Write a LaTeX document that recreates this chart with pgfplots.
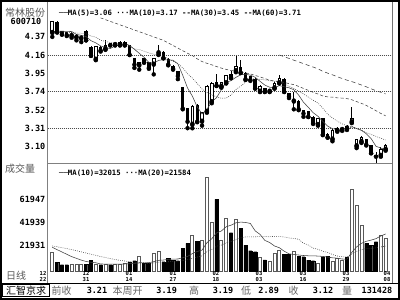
\documentclass[border=0pt]{standalone}
\usepackage{pgfplots}
\pgfplotsset{compat=1.18}
\usepackage{pgfplotstable}
\usepackage{fontspec}
\setmainfont{DejaVu Sans Mono}
\newfontfamily\mono{DejaVu Sans Mono}
\newfontfamily\cjk{Noto Sans CJK SC}

% up (hollow) candles: index, open, high, low, close, volume
\pgfplotstableread{
i O H L C V
0 4.415 4.56 4.37 4.552 15900
4 4.38 4.42 4.36 4.39 5600
5 4.36 4.40 4.33 4.39 5800
6 4.35 4.38 4.31 4.37 5500
9 4.105 4.27 4.10 4.264 5600
11 4.226 4.33 4.22 4.275 6000
13 4.275 4.31 4.27 4.302 5500
14 4.275 4.32 4.27 4.313 5600
15 4.275 4.32 4.27 4.305 7000
18 4.037 4.08 3.99 4.075 12400
21 4.048 4.13 3.935 4.124 15300
22 4.18 4.28 4.16 4.20 16700
29 3.35 3.58 3.31 3.57 31100
31 3.386 3.50 3.34 3.493 26200
32 3.50 3.81 3.49 3.803 80900
33 3.613 3.85 3.60 3.84 41700
35 3.79 3.85 3.78 3.848 26200
36 3.833 3.93 3.83 3.924 45500
38 3.973 4.143 3.96 4.03 44700
43 3.734 3.81 3.73 3.803 11900
45 3.734 3.77 3.73 3.75 8100
46 3.772 3.85 3.77 3.84 15600
47 3.833 3.924 3.83 3.897 18200
50 3.62 3.734 3.53 3.632 16750
55 3.348 3.43 3.34 3.425 6300
58 3.178 3.30 3.159 3.292 8100
59 3.28 3.32 3.27 3.318 11000
60 3.29 3.32 3.28 3.31 9570
62 3.379 3.556 3.37 3.425 70500
63 3.10 3.18 3.08 3.18 57000
64 3.15 3.22 3.14 3.21 39760
68 2.99 3.09 2.98 3.07 31000
69 3.06 3.13 3.05 3.12 28578
}\candup

% down (filled) candles
\pgfplotstableread{
i O H L C V
1 4.54 4.55 4.42 4.427 7300
2 4.438 4.44 4.395 4.40 5500
3 4.427 4.43 4.38 4.389 5500
7 4.44 4.45 4.33 4.33 5800
8 4.256 4.26 4.15 4.15 9500
10 4.249 4.26 4.20 4.211 5500
12 4.294 4.30 4.27 4.275 5500
16 4.275 4.28 4.16 4.16 8000
17 4.124 4.13 4.01 4.048 9000
19 4.124 4.13 4.07 4.075 6700
20 4.075 4.08 4.00 4.01 6700
23 4.20 4.21 4.12 4.124 8100
24 4.113 4.12 4.04 4.048 11000
25 4.03 4.04 3.99 3.999 9500
26 3.973 3.98 3.88 3.916 9000
27 3.784 3.79 3.53 3.538 19600
28 3.545 3.55 3.311 3.386 24000
30 3.583 3.59 3.38 3.386 25400
34 3.848 3.935 3.80 3.803 61900
37 3.935 3.973 3.89 3.897 33100
39 4.022 4.105 3.95 3.954 36900
40 3.954 3.96 3.87 3.878 22500
41 3.916 3.92 3.86 3.87 17600
42 3.886 3.89 3.77 3.772 16700
44 3.772 3.78 3.73 3.734 9600
48 3.886 3.89 3.73 3.734 14700
49 3.719 3.72 3.66 3.681 14200
51 3.632 3.64 3.52 3.53 13020
52 3.519 3.52 3.443 3.481 12400
53 3.507 3.51 3.44 3.443 9570
54 3.443 3.45 3.36 3.368 9000
56 3.425 3.43 3.23 3.235 12400
57 3.243 3.25 3.20 3.204 13000
61 3.34 3.35 3.29 3.30 11900
65 3.19 3.19 3.11 3.12 23980
66 3.12 3.12 3.02 3.02 22510
67 3.00 3.03 2.89 2.98 25360
}\canddown

% price moving averages MA5, MA10
\pgfplotstableread{
i ma5 ma10
0 4.430 4.420
1 4.436 4.423
2 4.436 4.423
3 4.434 4.422
4 4.432 4.421
5 4.399 4.415
6 4.388 4.412
7 4.374 4.405
8 4.326 4.380
9 4.301 4.367
10 4.265 4.332
11 4.246 4.317
12 4.235 4.305
13 4.265 4.296
14 4.275 4.288
15 4.294 4.280
16 4.271 4.259
17 4.226 4.231
18 4.180 4.223
19 4.133 4.204
20 4.074 4.184
21 4.066 4.169
22 4.097 4.162
23 4.107 4.144
24 4.101 4.117
25 4.099 4.087
26 4.057 4.062
27 3.925 4.011
28 3.777 3.942
29 3.682 3.892
30 3.559 3.829
31 3.475 3.766
32 3.528 3.727
33 3.618 3.698
34 3.665 3.674
35 3.757 3.658
36 3.844 3.660
37 3.862 3.695
38 3.900 3.759
39 3.931 3.798
40 3.937 3.847
41 3.926 3.885
42 3.901 3.882
43 3.855 3.878
44 3.811 3.871
45 3.786 3.862
46 3.780 3.853
47 3.805 3.853
48 3.791 3.823
49 3.780 3.796
50 3.757 3.772
51 3.695 3.738
52 3.612 3.709
53 3.553 3.672
54 3.491 3.636
55 3.449 3.603
56 3.390 3.543
57 3.335 3.474
58 3.305 3.429
59 3.295 3.393
60 3.272 3.361
61 3.285 3.338
62 3.329 3.332
63 3.307 3.306
64 3.285 3.290
65 3.247 3.260
66 3.191 3.238
67 3.102 3.216
68 3.080 3.194
69 3.062 3.174
}\pma

\pgfplotstableread{
i ma
10 4.59
11 4.57
12 4.55
13 4.53
14 4.51
15 4.49
16 4.47
17 4.45
18 4.43
19 4.41
20 4.39
21 4.37
22 4.35
23 4.33
24 4.30
25 4.27
26 4.24
27 4.21
28 4.18
29 4.154
30 4.115
31 4.084
32 4.064
33 4.046
34 4.026
35 4.008
36 3.993
37 3.979
38 3.975
39 3.964
40 3.953
41 3.940
42 3.923
43 3.906
44 3.887
45 3.869
46 3.858
47 3.853
48 3.842
49 3.828
50 3.816
51 3.796
52 3.772
53 3.750
54 3.727
55 3.708
56 3.685
57 3.674
58 3.671
59 3.663
60 3.660
61 3.654
62 3.641
63 3.619
64 3.599
65 3.575
66 3.545
67 3.514
68 3.482
69 3.454
}\pmathirty

\pgfplotstableread{
i ma
47 4.16
48 4.14
49 4.12
50 4.10
51 4.08
52 4.06
53 4.04
54 4.02
55 4.00
56 3.97
57 3.95
58 3.93
59 3.908
60 3.887
61 3.868
62 3.852
63 3.832
64 3.812
65 3.791
66 3.768
67 3.746
68 3.728
69 3.709
}\pmasixty

% volume moving averages MA10, MA20
\pgfplotstableread{
i v10 v20
0 20500 21700
1 18500 21000
2 16500 20200
3 14500 19400
4 12500 18500
5 11000 17600
6 9500 16600
7 8300 15600
8 7600 14600
9 7200 13600
10 6160 12600
11 6030 11700
12 6030 10800
13 6030 10000
14 6030 9300
15 6150 8700
16 6400 8100
17 6720 7700
18 7010 7400
19 7120 7160
20 7240 6700
21 8170 7100
22 9290 7660
23 9550 7790
24 10090 8060
25 10340 8245
26 10440 8420
27 11500 9110
28 12660 9835
29 15100 11110
30 16970 12105
31 18060 13115
32 24480 16885
33 27840 18695
34 32930 21510
35 34600 22470
36 38250 24345
37 39600 25550
38 41670 27165
39 42250 28675
40 41960 29465
41 41100 29580
42 34680 29580
43 31700 29770
44 26470 29700
45 24660 29630
46 21670 29960
47 20180 29890
48 17180 29425
49 14910 28580
50 14335 28148
51 13877 27489
52 13447 24064
53 13214 22457
54 13154 19812
55 12974 18817
56 12654 17162
57 12134 16157
58 11474 14327
59 11154 13032
60 10436 12386
61 10324 12101
62 16134 14791
63 20877 17046
64 23953 18554
65 25721 19348
66 26732 19693
67 27968 20051
68 30258 20866
69 32016 21585
}\vma

\pgfplotsset{
  panel/.style={scale only axis, hide axis, xtick=\empty, ytick=\empty,
    xmin=-0.952, xmax=70.43, width=344.8bp, clip=true},
  maline/.style={black!75, line width=0.55bp, mark=none},
}
\newcommand\num{\mono\bfseries\fontsize{8.5bp}{8.5bp}\selectfont}
\newcommand\leg{\mono\bfseries\fontsize{7.3bp}{7.3bp}\selectfont}
\newcommand\dat{\mono\bfseries\fontsize{5.5bp}{5.3bp}\selectfont}
\newcommand\zh{\cjk\fontsize{10bp}{10bp}\selectfont}

\begin{document}
\begin{tikzpicture}[x=1bp,y=1bp]
\useasboundingbox (0,0) rectangle (400,300);
\fill[white] (0,0) rectangle (400,300);

% dotted price grid lines (4.16, 3.74, 3.31)
\foreach \yy in {245,208.8,171.7}
  \draw[black!70, line width=0.5bp, dash pattern=on 0.7bp off 1.3bp] (47.7,\yy) -- (392.5,\yy);

% ---------------- price panel ----------------
\begin{axis}[panel, at={(47.7bp,136bp)}, anchor=south west, height=156bp,
  ymin=2.8955, ymax=4.7052]
% wicks
\addplot[only marks, mark=none, error bars/.cd, y dir=plus, y explicit, error mark=none,
  error bar style={draw=black, line width=0.7bp}]
  table[x=i, y=L, y error expr=\thisrow{H}-\thisrow{L}] {\candup};
\addplot[only marks, mark=none, error bars/.cd, y dir=plus, y explicit, error mark=none,
  error bar style={draw=black, line width=0.7bp}]
  table[x=i, y=L, y error expr=\thisrow{H}-\thisrow{L}] {\canddown};
% down bodies (filled)
\addplot[only marks, mark=none, error bars/.cd, y dir=plus, y explicit, error mark=none,
  error bar style={draw=black, line width=3.4bp}]
  table[x=i, y=C, y error expr={max(\thisrow{O}-\thisrow{C},0.012)}] {\canddown};
% up bodies (hollow): black outline then white inside
\addplot[only marks, mark=none, error bars/.cd, y dir=plus, y explicit, error mark=none,
  error bar style={draw=black, line width=3.6bp}]
  table[x=i, y=O, y error expr={max(\thisrow{C}-\thisrow{O},0.012)}] {\candup};
\addplot[only marks, mark=none, error bars/.cd, y dir=plus, y explicit, error mark=none,
  error bar style={draw=white, line width=1.6bp}]
  table[x=i, y expr=\thisrow{O}+0.0116, y error expr={max(\thisrow{C}-\thisrow{O}-0.0232,0)}] {\candup};
% moving averages
\addplot[maline] table[x=i, y=ma5] {\pma};
\addplot[maline, dash pattern=on 0.8bp off 1.3bp] table[x=i, y=ma10] {\pma};
\addplot[maline, dash pattern=on 3bp off 2.2bp] table[x=i, y=ma] {\pmathirty};
\addplot[maline, dash pattern=on 4bp off 3bp] table[x=i, y=ma] {\pmasixty};
\end{axis}

% ---------------- volume panel ----------------
\begin{axis}[panel, at={(47.7bp,28.9bp)}, anchor=south west, height=108.1bp,
  ymin=0, ymax=93230]
\addplot[ybar, bar width=3.2bp, bar shift=0pt, fill=black, draw=black, line width=0.3bp]
  table[x=i, y=V] {\canddown};
\addplot[ybar, bar width=3.0bp, bar shift=0pt, fill=white, draw=black!65, line width=0.8bp]
  table[x=i, y=V] {\candup};
\addplot[maline] table[x=i, y=v10] {\vma};
\addplot[maline, dash pattern=on 0.8bp off 1.3bp] table[x=i, y=v20] {\vma};
\end{axis}

% ---------------- frames ----------------
\draw[gray, line width=1.2bp] (47.7,17) -- (47.7,298);
\draw[gray, line width=1.2bp] (47.7,136.5) -- (392.5,136.5);
\draw[black!55, line width=0.9bp] (392.5,17) -- (392.5,298);
\draw[black, line width=1bp] (0,16.6) -- (400,16.6);
\draw[black, line width=0.8bp] (2.8,3.6) rectangle (49,15.6);
\draw[black, line width=2bp] (1,1) rectangle (399,299);

% ---------------- legends ----------------
\node[anchor=west, inner sep=0] at (59,287) {\leg ──MA(5)=3.06 ···MA(10)=3.17 -{}-MA(30)=3.45 -{}-MA(60)=3.71};
\node[anchor=west, inner sep=0] at (59,127) {\leg ──MA(10)=32015 ···MA(20)=21584};

% ---------------- left column ----------------
\node[inner sep=0, text=black!65] at (25,287.5) {\zh 常林股份};
\node[inner sep=0] at (26,278.5) {\num 600710};
\node[anchor=east, inner sep=0] at (45.5,263.1) {\num 4.37};
\node[anchor=east, inner sep=0] at (45.5,245.0) {\num 4.16};
\node[anchor=east, inner sep=0] at (45.5,226.9) {\num 3.95};
\node[anchor=east, inner sep=0] at (45.5,208.8) {\num 3.74};
\node[anchor=east, inner sep=0] at (45.5,189.8) {\num 3.52};
\node[anchor=east, inner sep=0] at (45.5,171.7) {\num 3.31};
\node[anchor=east, inner sep=0] at (45.5,153.6) {\num 3.10};
\node[inner sep=0, text=black!65] at (20,131) {\zh 成交量};
\node[anchor=east, inner sep=0] at (45.5,100.7) {\num 61947};
\node[anchor=east, inner sep=0] at (45.5,77.3) {\num 41939};
\node[anchor=east, inner sep=0] at (45.5,54.3) {\num 21931};
\node[inner sep=0, text=black!65] at (16,24.3) {\zh 日线};

% ---------------- date labels ----------------
\foreach \xx/\mm/\dd in {43/12/22, 86/12/31, 129/01/14, 173/01/27, 216/02/18, 259/03/03, 303/03/16, 346/03/29, 387/04/08}
  \node[font=\dat, align=center, inner sep=0] at (\xx,23.6) {\mm\\\dd};

% ---------------- info bar ----------------
\node[inner sep=0] at (26,9.6) {\zh 汇智京求};
\node[inner sep=0, text=black!60] at (61.7,9.4) {\zh 前收};
\node[inner sep=0] at (97,9.4) {\num 3.21};
\node[inner sep=0, text=black!60] at (127.7,9.4) {\zh 本周开};
\node[inner sep=0] at (166.7,9.4) {\num 3.19};
\node[inner sep=0, text=black!60] at (194,9.4) {\zh 高};
\node[inner sep=0] at (223,9.4) {\num 3.19};
\node[inner sep=0, text=black!60] at (246,9.4) {\zh 低};
\node[inner sep=0] at (268.7,9.4) {\num 2.89};
\node[inner sep=0, text=black!60] at (293.7,9.4) {\zh 收};
\node[inner sep=0] at (323,9.4) {\num 3.12};
\node[inner sep=0, text=black!60] at (347,9.4) {\zh 量};
\node[inner sep=0] at (377,9.4) {\num 131428};
\end{tikzpicture}
\end{document}
